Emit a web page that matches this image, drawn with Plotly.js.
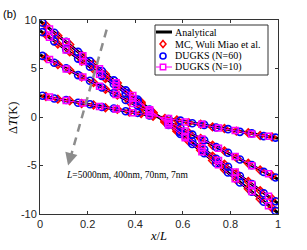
<!DOCTYPE html>
<html>
<head>
<meta charset="utf-8">
<script src="https://cdn.plot.ly/plotly-3.0.1.min.js"></script>
<style>html,body{margin:0;padding:0;background:#fff;}#chart{width:307px;height:250px;}</style>
</head>
<body>
<div id="chart"></div>
<script>
// Analytical lines (endpoints)
const anaX = [0, 1];
const ana1 = [9.9, -9.9];
const ana2 = [8.9, -8.9];
const ana3 = [6.4, -6.4];
const ana4 = [2.2, -2.2];

// MC (Wuli Miao et al.)
const mcX = [0.025,0.075,0.125,0.175,0.225,0.275,0.325,0.375,0.425,0.475,0.525,0.575,0.625,0.675,0.725,0.775,0.825,0.875,0.925,0.975];
const mc1 = [9.45,8.38,7.47,6.40,5.49,4.42,3.50,2.44,1.52,0.47,-0.53,-1.46,-2.51,-3.43,-4.49,-5.41,-6.47,-7.40,-8.45,-9.38];
const mc2 = [8.49,7.52,6.71,5.74,4.92,3.97,3.14,2.19,1.36,0.42,-0.47,-1.31,-2.25,-3.09,-4.03,-4.86,-5.81,-6.64,-7.59,-8.42];
const mc3 = [6.11,5.40,4.83,4.13,3.55,2.85,2.27,1.57,0.99,0.29,-0.35,-0.93,-1.63,-2.21,-2.91,-3.49,-4.19,-4.77,-5.47,-6.05];
const mc4 = [2.12,1.84,1.68,1.40,1.24,0.96,0.80,0.52,0.36,0.08,-0.14,-0.30,-0.58,-0.74,-1.02,-1.18,-1.46,-1.62,-1.90,-2.06];
const mcErr = [0.3,0.3,0.3,0.3,0.3,0.3,0.3,0.3,0.3,0.3,0.3,0.3,0.3,0.3,0.3,0.3,0.3,0.3,0.3,0.3];

// DUGKS (N=60)
const d60X = [0.01,0.06,0.11,0.16,0.21,0.26,0.31,0.36,0.41,0.46,0.54,0.59,0.64,0.69,0.74,0.79,0.84,0.89,0.94,0.99];
const d60_1 = [9.72,8.69,7.74,6.71,5.76,4.73,3.78,2.75,1.80,0.77,-0.81,-1.76,-2.79,-3.74,-4.77,-5.72,-6.75,-7.70,-8.73,-9.68];
const d60_2 = [8.75,7.80,6.97,6.02,5.19,4.24,3.41,2.46,1.63,0.68,-0.74,-1.57,-2.52,-3.35,-4.30,-5.13,-6.08,-6.91,-7.86,-8.69];
const d60_3 = [6.30,5.60,5.02,4.32,3.74,3.04,2.46,1.76,1.18,0.48,-0.54,-1.12,-1.82,-2.40,-3.10,-3.68,-4.38,-4.96,-5.66,-6.24];
const d60_4 = [2.19,1.91,1.75,1.47,1.31,1.03,0.87,0.59,0.43,0.15,-0.21,-0.37,-0.65,-0.81,-1.09,-1.25,-1.53,-1.69,-1.97,-2.13];

// DUGKS (N=10)
const d10X = [0.04,0.11,0.18,0.25,0.32,0.39,0.46,0.54,0.61,0.68,0.75,0.82,0.89,0.96];
const d10_1 = [9.08,7.75,6.31,4.98,3.53,2.21,0.76,-0.82,-2.15,-3.59,-4.92,-6.37,-7.69,-9.14];
const d10_2 = [8.22,6.91,5.73,4.42,3.23,1.93,0.74,-0.68,-1.99,-3.17,-4.48,-5.67,-6.97,-8.16];
const d10_3 = [5.92,4.96,4.13,3.17,2.33,1.38,0.54,-0.48,-1.44,-2.27,-3.23,-4.07,-5.02,-5.86];
const d10_4 = [2.05,1.69,1.44,1.07,0.82,0.45,0.21,-0.15,-0.51,-0.76,-1.13,-1.38,-1.75,-1.99];

const xTicks = [0, 0.2, 0.4, 0.6, 0.8, 1];
const xTickText = ['0', '0.2', '0.4', '0.6', '0.8', '1'];
const yTicks = [-10, -5, 0, 5, 10];
const yTickText = ['-10', '-5', '0', '5', '10'];
const legendNames = ['Analytical', 'MC, Wuli Miao et al.', 'DUGKS (N=60)', 'DUGKS (N=10)'];

const serif = 'Liberation Serif, Times New Roman, serif';
const sans = 'Liberation Sans, Arial, sans-serif';

const traces = [];
[ana1, ana2, ana3, ana4].forEach((y) => traces.push({
  x: anaX, y: y, mode: 'lines', name: legendNames[0], showlegend: false,
  line: {color: '#000', width: 3}
}));
[mc1, mc2, mc3, mc4].forEach((y) => traces.push({
  x: mcX, y: y, mode: 'markers', name: legendNames[1], showlegend: false,
  marker: {symbol: 'diamond-open', size: 6, color: '#ff0000', line: {width: 1.5, color: '#ff0000'}},
  error_y: {type: 'data', array: mcErr, visible: true, color: '#ff0000', thickness: 1.2, width: 0}
}));
[d60_1, d60_2, d60_3, d60_4].forEach((y) => traces.push({
  x: d60X, y: y, mode: 'markers', name: legendNames[2], showlegend: false,
  marker: {symbol: 'circle-open', size: 7, color: '#0000ff', line: {width: 1.6, color: '#0000ff'}}
}));
[d10_1, d10_2, d10_3, d10_4].forEach((y) => traces.push({
  x: d10X, y: y, mode: 'lines+markers', name: legendNames[3], showlegend: false,
  line: {color: '#ff00ff', width: 1},
  marker: {symbol: 'square-open', size: 6, color: '#ff00ff', line: {width: 1.5, color: '#ff00ff'}}
}));

// Manual legend geometry (pixels -> paper)
const L = 40, R = 278, T = 20, B = 214;
const px = (p) => (p - L) / (R - L);
const py = (p) => (B - p) / (B - T);
const legRows = [32, 44, 56, 67];
const symX = 163;

const shapes = [
  {type: 'line', xref: 'x', yref: 'y', x0: 0.28, y0: 9.0, x1: 0.128, y1: -4.2,
   line: {color: '#8c8c8c', width: 2.5, dash: '8px,6px'}},
  {type: 'rect', xref: 'paper', yref: 'paper', x0: px(155), x1: px(268), y0: py(75), y1: py(25),
   fillcolor: '#fff', line: {color: '#333', width: 1}, layer: 'above'},
  {type: 'line', xref: 'paper', yref: 'paper', x0: px(156), x1: px(172), y0: py(legRows[0]), y1: py(legRows[0]),
   line: {color: '#000', width: 3}, layer: 'above'},
  {type: 'path', xref: 'paper', yref: 'paper', xsizemode: 'pixel', ysizemode: 'pixel',
   xanchor: px(symX), yanchor: py(legRows[1]), path: 'M0,3.5 L3,0 L0,-3.5 L-3,0 Z',
   line: {color: '#ff0000', width: 1.5}, layer: 'above'},
  {type: 'circle', xref: 'paper', yref: 'paper', xsizemode: 'pixel', ysizemode: 'pixel',
   xanchor: px(symX), yanchor: py(legRows[2]), x0: -3, x1: 3, y0: -3, y1: 3,
   line: {color: '#0000ff', width: 1.6}, layer: 'above'},
  {type: 'line', xref: 'paper', yref: 'paper', x0: px(156), x1: px(172), y0: py(legRows[3]), y1: py(legRows[3]),
   line: {color: '#ff00ff', width: 1}, layer: 'above'},
  {type: 'rect', xref: 'paper', yref: 'paper', xsizemode: 'pixel', ysizemode: 'pixel',
   xanchor: px(symX), yanchor: py(legRows[3]), x0: -2.7, x1: 2.7, y0: -2.7, y1: 2.7,
   fillcolor: '#fff', line: {color: '#ff00ff', width: 1.5}, layer: 'above'}
];

const annotations = [
  {xref: 'x', yref: 'y', x: 0.118, y: -5.0, ax: 0.128, ay: -4.1, axref: 'x', ayref: 'y',
   showarrow: true, arrowhead: 2, arrowsize: 1, arrowwidth: 2.5, arrowcolor: '#8c8c8c', text: ''},
  {xref: 'x', yref: 'y', x: 0.1, y: -6.0, xanchor: 'left', yanchor: 'middle', showarrow: false,
   text: '<i>L</i>=5000nm, 400nm, 70nm, 7nm', font: {family: serif, size: 9.5, color: '#000'}},
  {xref: 'paper', yref: 'paper', x: -0.165, y: 1.03, xanchor: 'left', yanchor: 'middle', showarrow: false,
   text: '(b)', font: {family: sans, size: 11, color: '#000'}},
  {xref: 'paper', yref: 'paper', x: px(13), y: py(118), xanchor: 'center', yanchor: 'middle', showarrow: false,
   textangle: -90, text: 'Δ<i>T</i>(K)', font: {family: serif, size: 12.5, color: '#000'}}
];
legendNames.forEach((n, i) => annotations.push({
  xref: 'paper', yref: 'paper', x: px(173), y: py(legRows[i]), xanchor: 'left', yanchor: 'middle',
  showarrow: false, text: n, font: {family: serif, size: 10, color: '#000'}
}));

const layout = {
  width: 307, height: 250,
  margin: {l: L, r: 307 - R, t: T, b: 250 - B},
  paper_bgcolor: '#fff', plot_bgcolor: '#fff',
  showlegend: false,
  xaxis: {
    range: [0, 1], tickvals: xTicks, ticktext: xTickText,
    ticks: 'inside', ticklen: 3, tickcolor: '#333', mirror: 'ticks',
    showline: true, linecolor: '#333', linewidth: 1, showgrid: false, zeroline: false,
    tickfont: {family: sans, size: 11, color: '#262626'},
    title: {text: '<i>x</i>/<i>L</i>', font: {family: serif, size: 12.5, color: '#000'}, standoff: 2}
  },
  yaxis: {
    range: [-10, 10], tickvals: yTicks, ticktext: yTickText,
    ticks: 'inside', ticklen: 3, tickcolor: '#333', mirror: 'ticks',
    showline: true, linecolor: '#333', linewidth: 1, showgrid: false, zeroline: false,
    tickfont: {family: sans, size: 11, color: '#262626'}
  },
  shapes: shapes,
  annotations: annotations
};

Plotly.newPlot('chart', traces, layout, {displayModeBar: false, staticPlot: true});
</script>
</body>
</html>
